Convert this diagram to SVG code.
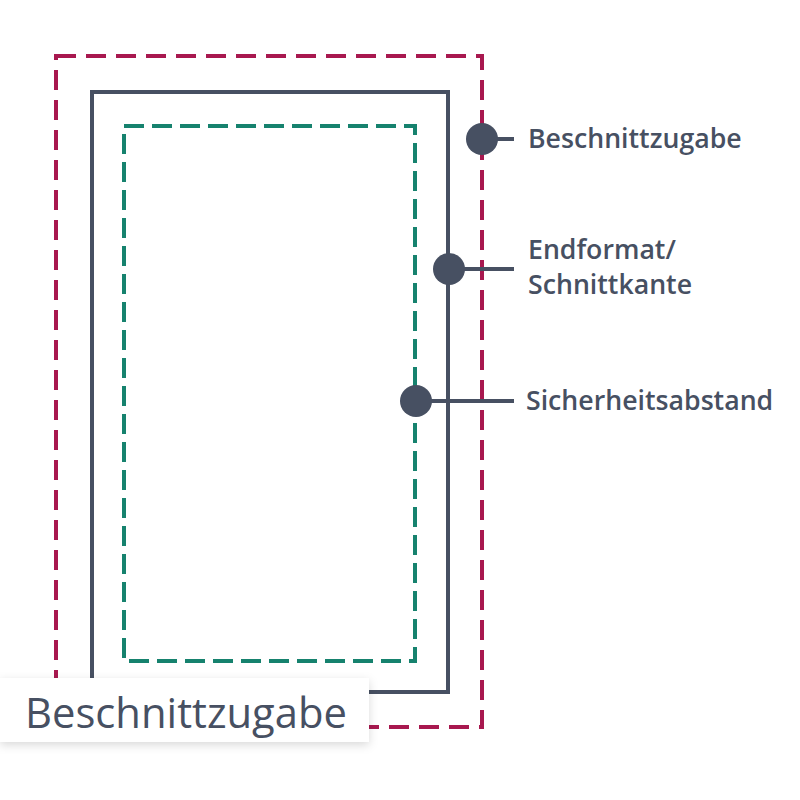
<svg xmlns="http://www.w3.org/2000/svg" width="800" height="800" viewBox="0 0 800 800">
<defs>
<style>
.lbl{font-family:"Open Sans","Noto Sans",sans-serif;fill:#475062;}
.call{font-size:26.7px;font-weight:600;}
.dot{fill:#475062;}
.lead{stroke:#475062;stroke-width:4;fill:none;}
</style>
<filter id="sh" x="-10%" y="-30%" width="120%" height="160%">
<feDropShadow dx="0" dy="3" stdDeviation="5" flood-color="#000" flood-opacity="0.15"/>
</filter>
</defs>
<rect width="800" height="800" fill="#fff"/>
<g id="bleed"><rect x="56" y="56" width="426" height="671" fill="none" stroke="#a8184f" stroke-width="4" stroke-dasharray="20 10"/></g>
<g id="trim"><rect x="92" y="92" width="356" height="600" fill="none" stroke="#475062" stroke-width="4"/></g>
<g id="safe"><rect x="124" y="126" width="291" height="535" fill="none" stroke="#16826e" stroke-width="4" stroke-dasharray="20 8"/></g>
<g id="connectors">
<line class="lead" x1="482" y1="139" x2="514" y2="139"/>
<line class="lead" x1="449" y1="269" x2="514" y2="269"/>
<line class="lead" x1="416" y1="401" x2="514" y2="401"/>
</g>
<g id="c1"><circle class="dot" cx="482" cy="139" r="16"/><text class="lbl call" x="528" y="148">Beschnittzugabe</text></g>
<g id="c2"><circle class="dot" cx="449" cy="269" r="16"/><text class="lbl call" x="528" y="259">Endformat/</text><text class="lbl call" x="528" y="294">Schnittkante</text></g>
<g id="c3"><circle class="dot" cx="416" cy="401" r="16"/><text class="lbl call" x="526" y="410">Sicherheitsabstand</text></g>
<g id="tag"><rect x="0" y="678" width="369" height="64" fill="#fff" filter="url(#sh)"/><text class="lbl" x="25" y="728" font-size="42" textLength="322" lengthAdjust="spacingAndGlyphs">Beschnittzugabe</text></g>
</svg>
